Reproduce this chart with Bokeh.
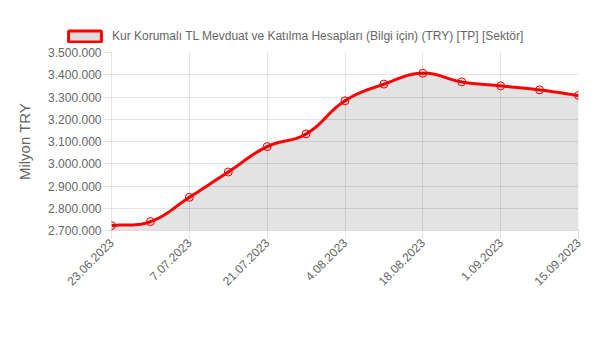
import numpy as np
from bokeh.plotting import figure
from bokeh.layouts import column, row
from bokeh.models import Range1d, FixedTicker, CustomJSTickFormatter, Legend, LegendItem, ColumnDataSource
from bokeh.embed import file_html
from bokeh.resources import INLINE

# ---- data ----
dates = ["23.06.2023", "30.06.2023", "7.07.2023", "14.07.2023", "21.07.2023", "28.07.2023",
         "4.08.2023", "11.08.2023", "18.08.2023", "25.08.2023", "1.09.2023", "8.09.2023", "15.09.2023"]
values = [2722000, 2740000, 2849000, 2963000, 3077000, 3134000,
          3283000, 3358000, 3407000, 3368000, 3350000, 3332000, 3307000]
series_name = "Kur Korumalı TL Mevduat ve Katılma Hesapları (Bilgi için) (TRY) [TP] [Sektör]"
y_label = "Milyon TRY"
y_ticks = [2700000, 2800000, 2900000, 3000000, 3100000, 3200000, 3300000, 3400000, 3500000]
x_tick_idx = [0, 2, 4, 6, 8, 10, 12]

FONT = "Liberation Sans"
TXT = "#666666"

W, H = 593, 340
LEG_H = 46
MH = H - LEG_H
L, R, T, B = 111, 15, 52 - LEG_H, 110
ymin, ymax = y_ticks[0], y_ticks[-1]
xs = np.arange(len(values), dtype=float)
ys = np.array(values, dtype=float)

# chart.js style spline (tension 0.4), computed in pixel space
sx = (W - L - R) / (len(values) - 1)
sy = (MH - T - B) / (ymax - ymin)
px, py = xs * sx, ys * sy
n = len(px)
cpx_prev, cpy_prev = px.copy(), py.copy()
cpx_next, cpy_next = px.copy(), py.copy()
t = 0.4
for i in range(n):
    pi_, ni_ = max(i - 1, 0), min(i + 1, n - 1)
    d01 = np.hypot(px[i] - px[pi_], py[i] - py[pi_])
    d12 = np.hypot(px[ni_] - px[i], py[ni_] - py[i])
    tot = d01 + d12
    s01 = d01 / tot if tot else 0
    s12 = d12 / tot if tot else 0
    dx, dy = px[ni_] - px[pi_], py[ni_] - py[pi_]
    cpx_prev[i] = px[i] - t * s01 * dx
    cpy_prev[i] = py[i] - t * s01 * dy
    cpx_next[i] = px[i] + t * s12 * dx
    cpy_next[i] = py[i] + t * s12 * dy
cx, cy = [], []
tt = np.linspace(0, 1, 25)
for i in range(n - 1):
    p0 = np.array([px[i], py[i]]); p3 = np.array([px[i + 1], py[i + 1]])
    p1 = np.array([cpx_next[i], cpy_next[i]]); p2 = np.array([cpx_prev[i + 1], cpy_prev[i + 1]])
    seg = ((1 - tt) ** 3)[:, None] * p0 + (3 * (1 - tt) ** 2 * tt)[:, None] * p1 + \
          (3 * (1 - tt) * tt ** 2)[:, None] * p2 + (tt ** 3)[:, None] * p3
    if i > 0:
        seg = seg[1:]
    cx.extend(seg[:, 0] / sx); cy.extend(seg[:, 1] / sy)
cx = np.array(cx); cy = np.array(cy)

# ---- legend figure ----
lf = figure(width=W, height=LEG_H, output_backend="svg", toolbar_location=None,
            x_range=Range1d(0, 1), y_range=Range1d(0, 1),
            x_axis_location=None, y_axis_location=None,
            min_border_left=0, min_border_right=0, min_border_top=0, min_border_bottom=0,
            outline_line_color=None)
lf.grid.visible = False
leg_src = ColumnDataSource(dict(left=[5], right=[6], top=[5], bottom=[4]))
leg_r = lf.quad(left="left", right="right", top="top", bottom="bottom", source=leg_src,
                fill_color="#dddddd", line_color="#ff0000", line_width=3)
legend = Legend(items=[LegendItem(label=series_name, renderers=[leg_r])],
                location=(64, 3), padding=0, margin=0, glyph_width=41, glyph_height=14,
                label_height=14, label_standoff=7, border_line_alpha=0,
                background_fill_alpha=0, label_text_font=FONT,
                label_text_font_size="12px", label_text_color=TXT)
lf.add_layout(legend, "center")

# ---- main figure ----
p = figure(width=W, height=MH, output_backend="svg", toolbar_location=None,
           x_range=Range1d(0, len(values) - 1), y_range=Range1d(ymin, ymax),
           min_border_left=L, min_border_right=R, min_border_top=T, min_border_bottom=B,
           outline_line_color=None)

p.varea(x=cx, y1=np.full_like(cy, ymin), y2=cy, fill_color="black", fill_alpha=0.11)
p.line(cx, cy, line_color="#ff0000", line_width=3)
p.scatter(xs, ys, size=8, marker="circle", line_color="#ff0000", line_width=1,
          fill_color="black", fill_alpha=0.1)

p.yaxis.ticker = FixedTicker(ticks=y_ticks)
p.yaxis.formatter = CustomJSTickFormatter(code="return Math.round(tick).toString().replace(/\\B(?=(\\d{3})+(?!\\d))/g, '.');")
p.xaxis.ticker = FixedTicker(ticks=x_tick_idx)
p.xaxis.major_label_overrides = {i: dates[i] for i in x_tick_idx}
p.xaxis.major_label_orientation = np.pi / 4
for ax in (p.xaxis, p.yaxis):
    ax.axis_line_color = "black"
    ax.axis_line_alpha = 0.1
    ax.major_tick_line_color = "black"
    ax.major_tick_line_alpha = 0.1
    ax.major_tick_in = 0
    ax.major_tick_out = 8
    ax.minor_tick_line_color = None
    ax.major_label_text_font = FONT
    ax.major_label_text_font_size = "12px"
    ax.major_label_text_color = TXT
    ax.major_label_standoff = 2
p.yaxis.axis_label = y_label
p.yaxis.axis_label_text_font = FONT
p.yaxis.axis_label_text_font_size = "15px"
p.yaxis.axis_label_text_font_style = "normal"
p.yaxis.axis_label_text_color = TXT
p.yaxis.axis_label_standoff = 12

p.xgrid.ticker = FixedTicker(ticks=x_tick_idx)
p.ygrid.ticker = FixedTicker(ticks=y_ticks)
for g in (p.xgrid, p.ygrid):
    g.grid_line_color = "black"
    g.grid_line_alpha = 0.1

layout = column(row(lf), row(p), spacing=0)
open("out.html", "w").write(file_html(layout, INLINE))
